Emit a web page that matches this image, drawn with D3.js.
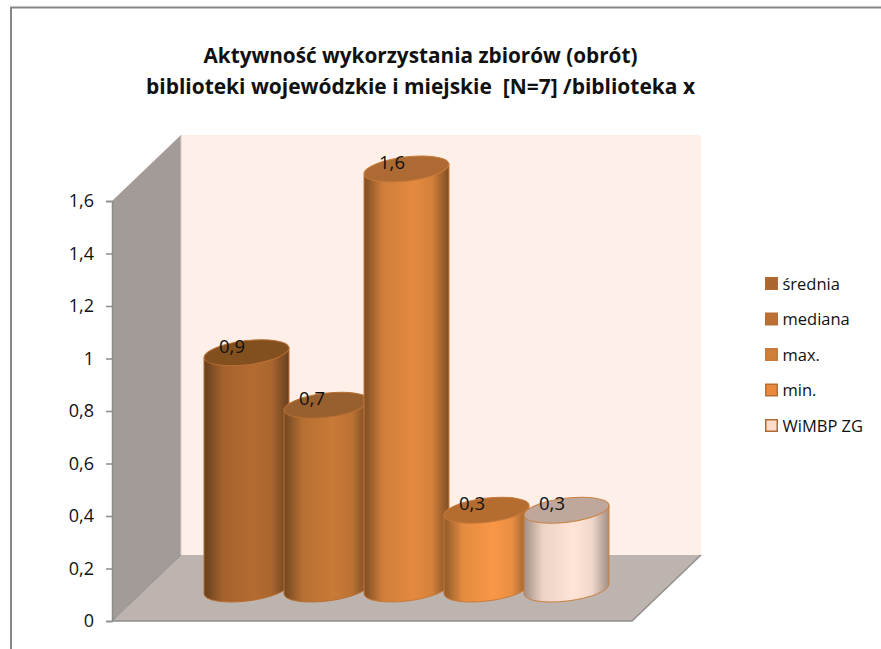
<!DOCTYPE html>
<html><head><meta charset="utf-8">
<script src="https://cdnjs.cloudflare.com/ajax/libs/d3/7.8.5/d3.min.js"></script>
<style>html,body{margin:0;padding:0;background:#fff;overflow:hidden}svg{display:block}text{font-family:"Open Sans",sans-serif;fill:#111;white-space:pre}</style>
</head><body><svg id="c" width="881" height="649"></svg>
<script>
const categories = ["średnia","mediana","max.","min.","WiMBP ZG"];
const values = [0.9,0.7,1.6,0.3,0.3];
const labels = ["0,9","0,7","1,6","0,3","0,3"];
const tickValues = [0,0.2,0.4,0.6,0.8,1,1.2,1.4,1.6];
const titleLines = ["Aktywność wykorzystania zbiorów (obrót)","biblioteki wojewódzkie i miejskie  [N=7] /biblioteka x"];
const bodyColors = ["#B46B31","#C97A37","#E38A3F","#F99746","#FFE4D7"];
const edgeColors = ["#65401F","#714722","#7E4D24","#8F5A2A","#A18E84"];
const topColors  = ["#82501F","#98602E","#AD6A33","#B56C30","#BFA79B"];
const strokeColors = ["#B96F33","#B96F33","#C77A3A","#C77A3A","#C8803F"];
const legendFill = ["#AB6630","#BC7034","#D07F3B","#E8893E","#FDDCCB"];
const legendEdge = ["#B0692F","#B86E33","#C47A3F","#B86E33","#AD6A33"];

const W = {left:112,right:632,floor:621,top:201,dx:69,dy:66};
const svg = d3.select("#c");
const y = d3.scaleLinear().domain([0,1.6]).range([W.floor,W.top]);
const x = d3.scaleBand().domain(categories).range([206.5,606.5]);
const rx = 42.8, ry = 12, tilt = 7, baseY = 589;
const defs = svg.append("defs");

// frame
svg.append("path").attr("d","M11,649V7.5H881").attr("fill","none").attr("stroke","#868686").attr("stroke-width",2);

// walls
const poly = (pts,f)=>svg.append("polygon").attr("points",pts.map(p=>p.join(",")).join(" ")).attr("fill",f);
poly([[W.left+W.dx,W.top-W.dy],[W.right+W.dx,W.top-W.dy],[W.right+W.dx,W.floor-W.dy],[W.left+W.dx,W.floor-W.dy]],"#FEF0E9");
poly([[W.left,W.top],[W.left+W.dx,W.top-W.dy],[W.left+W.dx,W.floor-W.dy],[W.left,W.floor]],"#A39B97");
poly([[W.left,W.floor],[W.right,W.floor],[W.right+W.dx,W.floor-W.dy],[W.left+W.dx,W.floor-W.dy]],"#BDB4B0");
svg.append("path").attr("d",`M${W.left+W.dx},${W.top-W.dy}V${W.floor-W.dy}`).attr("stroke","#D8CFCA").attr("fill","none");
svg.append("path").attr("d",`M${W.left},${W.floor}L${W.left+W.dx},${W.floor-W.dy}`).attr("stroke","#8F8F8F").attr("fill","none");
svg.append("path").attr("d",`M${W.left},${W.floor}H${W.right}L${W.right+W.dx},${W.floor-W.dy}`).attr("stroke","#8F8F8F").attr("stroke-width",1.5).attr("fill","none");

// axis
const ax = svg.append("g").attr("transform",`translate(${W.left},0)`)
  .call(d3.axisLeft(y).tickValues(tickValues).tickSize(6).tickPadding(12).tickFormat(d=>String(d).replace(".",",")));
ax.selectAll("path,line").attr("stroke","#8C8C8C").attr("stroke-width",1.5);
ax.selectAll("text").style("font-size","18px").attr("fill","#111").attr("font-family",null);

// bars
const a = tilt*Math.PI/180, ex = rx*Math.cos(a), ey = rx*Math.sin(a);
const data = categories.map((c,i)=>({c,i,v:values[i],l:labels[i]}));
data.forEach(d=>{
  const g = defs.append("linearGradient").attr("id","g"+d.i);
  [[0,edgeColors[d.i]],[.22,d3.interpolateRgb(edgeColors[d.i],bodyColors[d.i])(.8)],[.58,bodyColors[d.i]],[.8,d3.interpolateRgb(edgeColors[d.i],bodyColors[d.i])(.85)],[1,edgeColors[d.i]]]
    .forEach(s=>g.append("stop").attr("offset",s[0]).attr("stop-color",s[1]));
});
const cy = v => y(v)-(W.floor-baseY);
const bars = svg.selectAll("g.bar").data(data).join("g").attr("class","bar");
bars.append("path")
  .attr("d",d=>{const cx=x(d.c)+x.bandwidth()/2, t=cy(d.v);
    return `M${cx-ex},${t+ey}V${baseY+ey}A${rx},${ry} ${-tilt} 0 0 ${cx+ex},${baseY-ey}V${t-ey}Z`;})
  .attr("fill",d=>`url(#g${d.i})`).attr("stroke",d=>strokeColors[d.i]).attr("stroke-width",1);
bars.append("ellipse")
  .attr("rx",rx).attr("ry",ry)
  .attr("transform",d=>`translate(${x(d.c)+x.bandwidth()/2},${cy(d.v)}) rotate(${-tilt})`)
  .attr("fill",d=>topColors[d.i]).attr("stroke",d=>strokeColors[d.i]).attr("stroke-width",1);
svg.selectAll("text.val").data(data).join("text").attr("class","val")
  .attr("x",d=>x(d.c)+x.bandwidth()/2-14.5).attr("y",d=>cy(d.v))
  .attr("text-anchor","middle").style("font-size","18.5px").text(d=>d.l);

// title
svg.selectAll("text.title").data(titleLines).join("text").attr("class","title")
  .attr("x",420.5).attr("y",(d,i)=>63+i*31).attr("text-anchor","middle")
  .attr("textLength",(d,i)=>[434,549][i]).attr("lengthAdjust","spacingAndGlyphs")
  .style("font-size","21.5px").style("font-weight","700").text(d=>d);

// legend
const ly = d3.scalePoint().domain(categories).range([283.5,425.5]);
const lg = svg.selectAll("g.leg").data(data).join("g").attr("class","leg").attr("transform",d=>`translate(765,${ly(d.c)})`);
lg.append("rect").attr("x",.75).attr("y",-5.75).attr("width",11.5).attr("height",11.5)
  .attr("fill",d=>legendFill[d.i]).attr("stroke",d=>legendEdge[d.i]).attr("stroke-width",1.5);
lg.append("text").attr("x",17.5).attr("y",6).style("font-size","16.5px").text(d=>d.c);
</script></body></html>
